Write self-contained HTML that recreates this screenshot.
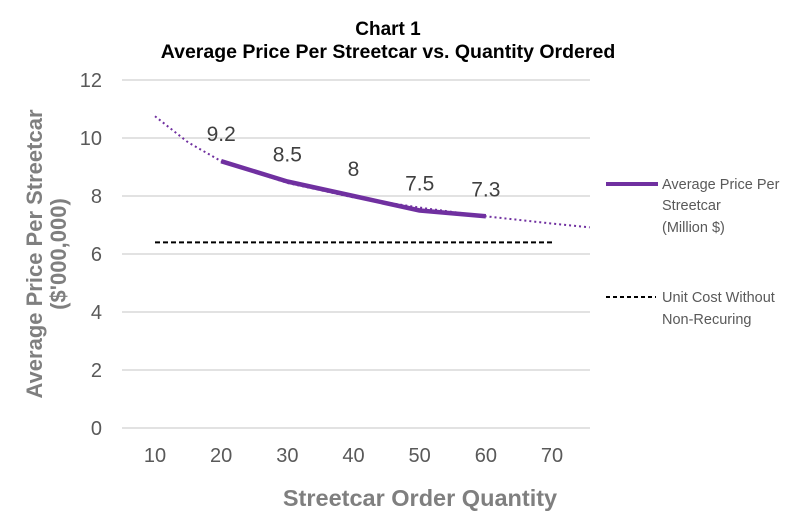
<!DOCTYPE html>
<html><head><meta charset="utf-8"><style>
body{margin:0;background:#fff;width:806px;height:516px;overflow:hidden;font-family:"Liberation Sans",Arial,sans-serif}
</style></head><body>
<svg width="806" height="516" xmlns="http://www.w3.org/2000/svg" font-family="Liberation Sans, Arial, sans-serif">
<text x="388" y="35" text-anchor="middle" font-size="19" font-weight="bold">Chart 1</text>
<text x="388" y="58" text-anchor="middle" font-size="19.5" font-weight="bold">Average Price Per Streetcar vs. Quantity Ordered</text>
<g id="grid"></g><g id="yt"></g><g id="xt"></g><g id="series"></g>
<text transform="translate(48,254) rotate(-90)" text-anchor="middle" font-size="22" font-weight="bold" fill="#7f7f7f"><tspan x="0" dy="-6">Average Price Per Streetcar</tspan><tspan x="0" dy="24">($'000,000)</tspan></text>
<text x="420" y="506" text-anchor="middle" font-size="23.5" font-weight="bold" fill="#7f7f7f">Streetcar Order Quantity</text>
<g>
<line x1="606" y1="184" x2="658" y2="184" stroke="#7030a0" stroke-width="4"/>
<text x="662" y="189" font-size="14.5" fill="#595959">Average Price Per</text>
<text x="662" y="210" font-size="14.5" fill="#595959">Streetcar</text>
<text x="662" y="232" font-size="14.5" fill="#595959">(Million $)</text>
</g>
<g>
<line x1="606" y1="297" x2="656" y2="297" stroke="#000" stroke-width="2" stroke-dasharray="4,3"/>
<text x="662" y="302" font-size="14.5" fill="#595959">Unit Cost Without</text>
<text x="662" y="324" font-size="14.5" fill="#595959">Non-Recuring</text>
</g>
</svg>
<script>
const categories=[20,30,40,50,60];
const prices=[9.2,8.5,8,7.5,7.3];
const trendQty=[10,15,20,30,40,50,60,70,75.7];
const trendVals=[10.75,9.85,9.2,8.45,7.95,7.6,7.3,7.05,6.92];
const unitCost=6.4;
const unitCostRange=[10,70];
const yTicks=[0,2,4,6,8,10,12];
const xTicks=[10,20,30,40,50,60,70];
const NS="http://www.w3.org/2000/svg";
const X=v=>155+(v-10)*(397/60);
const Y=v=>428-v*29;
function mk(t,a,p){const e=document.createElementNS(NS,t);for(const k in a)e.setAttribute(k,a[k]);p.appendChild(e);return e;}
const grid=document.getElementById('grid'),yt=document.getElementById('yt'),xt=document.getElementById('xt'),s=document.getElementById('series');
yTicks.forEach(v=>{
const l=mk('line',{x1:122,x2:590,y1:Y(v),y2:Y(v),stroke:'#d9d9d9','stroke-width':1.5},grid);


const t=mk('text',{x:102,y:Y(v)+7,'text-anchor':'end','font-size':20,fill:'#595959'},yt);t.textContent=v;


});
xTicks.forEach(v=>{
const t=mk('text',{x:X(v),y:462,'text-anchor':'middle','font-size':20,fill:'#595959'},xt);t.textContent=v;


});
const du=mk('line',{x1:X(unitCostRange[0]),x2:X(unitCostRange[1]),y1:Y(unitCost),y2:Y(unitCost),stroke:'#000','stroke-width':2,'stroke-dasharray':'5,3'},s);


const tr=mk('polyline',{points:trendQty.map((q,i)=>X(q)+','+Y(trendVals[i])).join(' '),fill:'none',stroke:'#7030a0','stroke-width':2,'stroke-dasharray':'2,3'},s);


const pl=mk('polyline',{points:categories.map((q,i)=>X(q)+','+Y(prices[i])).join(' '),fill:'none',stroke:'#7030a0','stroke-width':4.5,'stroke-linejoin':'round'},s);


categories.forEach((q,i)=>{
const t=mk('text',{x:X(q),y:Y(prices[i])-20,'text-anchor':'middle','font-size':21,fill:'#404040'},s);t.textContent=prices[i];


});
</script>
</body></html>
